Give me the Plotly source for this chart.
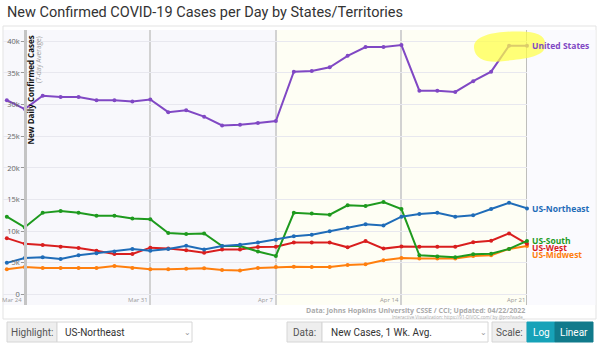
import plotly.graph_objects as go

W, H = 600, 344


def px(x):
    return x / W


def py(y):
    return 1 - y / H


dates = ["2022-03-23", "2022-03-24", "2022-03-25", "2022-03-26", "2022-03-27", "2022-03-28",
         "2022-03-29", "2022-03-30", "2022-03-31", "2022-04-01", "2022-04-02", "2022-04-03",
         "2022-04-04", "2022-04-05", "2022-04-06", "2022-04-07", "2022-04-08", "2022-04-09",
         "2022-04-10", "2022-04-11", "2022-04-12", "2022-04-13", "2022-04-14", "2022-04-15",
         "2022-04-16", "2022-04-17", "2022-04-18", "2022-04-19", "2022-04-20", "2022-04-21"]

united_states = [30700, 29300, 31400, 31200, 31200, 30700, 30700, 30500, 30800, 28800,
                 29100, 28100, 26700, 26800, 27100, 27400, 35200, 35300, 35900, 37700,
                 39100, 39100, 39400, 32200, 32200, 32000, 33700, 35200, 39300, 39300]
us_northeast = [5000, 5750, 5900, 5600, 6200, 6500, 6800, 7200, 6900, 7200,
                7700, 7100, 7660, 7870, 8200, 8660, 9200, 9450, 10000, 10550,
                11100, 10900, 12300, 12700, 12900, 12300, 12500, 13500, 14500, 13600]
us_south = [12300, 10600, 12900, 13200, 12900, 12450, 12450, 12000, 11900, 9700,
            9550, 9650, 7660, 7660, 6800, 6100, 12900, 12800, 12600, 14100,
            14000, 14600, 13500, 6200, 6000, 5900, 6350, 6450, 7200, 8450]
us_west = [8900, 8000, 7800, 7550, 7350, 6900, 6400, 6400, 7400, 7250,
           7000, 6600, 7100, 7100, 7500, 7550, 8200, 8200, 8200, 7450,
           8450, 7250, 7600, 7550, 7550, 7550, 8250, 8500, 9650, 8000]
us_midwest = [3980, 4350, 4200, 4200, 4200, 4200, 4500, 4200, 4000, 4000,
              4050, 4130, 3870, 3800, 4200, 4350, 4400, 4350, 4350, 4660,
              4770, 5400, 5770, 5700, 5700, 5700, 6100, 6200, 7200, 7660]

series_names = ["US-Midwest", "US-West", "US-South", "US-Northeast", "United States"]
series_values = [us_midwest, us_west, us_south, us_northeast, united_states]
series_colors = ["#ff7f0e", "#d91e1e", "#1e9a1e", "#1f6cb8", "#8048c4"]
label_shift = [-8, -3.5, 0.5, 0, 0]

week_ticks = ["2022-03-24", "2022-03-31", "2022-04-07", "2022-04-14", "2022-04-21"]
week_labels = ["Mar 24", "Mar 31", "Apr 7", "Apr 14", "Apr 21"]
y_ticks = [0, 5000, 10000, 15000, 20000, 25000, 30000, 35000, 40000]
y_labels = ["0", "5k", "10k", "15k", "20k", "25k", "30k", "35k", "40k"]

FONT = "Open Sans"

fig = go.Figure()
for name, vals, col in zip(series_names, series_values, series_colors):
    fig.add_trace(go.Scatter(
        x=dates, y=vals, name=name, mode="lines+markers",
        line=dict(color=col, width=2), marker=dict(color=col, size=4),
        cliponaxis=False, showlegend=False))

annotations = []
for name, vals, col, sh in zip(series_names, series_values, series_colors, label_shift):
    annotations.append(dict(x=dates[-1], y=vals[-1], xref="x", yref="y", text="<b>%s</b>" % name,
                            xanchor="left", yanchor="middle", xshift=3, yshift=sh, showarrow=False,
                            font=dict(family=FONT, size=8.5, color=col)))

# x tick labels, right-aligned just left of each week line
for t, lab in zip(week_ticks, week_labels):
    annotations.append(dict(x=t, y=py(299.5), xref="x", yref="paper", text=lab, xanchor="right",
                            yanchor="middle", xshift=-1.5, showarrow=False, borderpad=0,
                            font=dict(family=FONT, size=6, color="#999")))

# title
annotations.append(dict(x=px(5), y=py(13), xref="paper", yref="paper", xanchor="left", yanchor="middle",
                        text="New Confirmed COVID-19 Cases per Day by States/Territories", showarrow=False,
                        font=dict(family="Roboto", size=14.5, color="#333")))
# y axis titles
annotations.append(dict(x=px(30), y=py(34), xref="paper", yref="paper", xanchor="center", yanchor="top",
                        text="<b>New Daily Confirmed Cases</b>", textangle=-90, showarrow=False,
                        font=dict(family=FONT, size=8, color="#111")))
annotations.append(dict(x=px(38.5), y=py(34), xref="paper", yref="paper", xanchor="center", yanchor="top",
                        text="(7-day Average)", textangle=-90, showarrow=False,
                        font=dict(family=FONT, size=6.5, color="#999")))
# source
annotations.append(dict(x=px(527), y=py(310), xref="paper", yref="paper", xanchor="right", yanchor="middle",
                        text="<b>Data: Johns Hopkins University CSSE / CCI; Updated: 04/22/2022</b>",
                        showarrow=False, font=dict(family=FONT, size=7, color="#aaa")))
annotations.append(dict(x=px(527), y=py(316.5), xref="paper", yref="paper", xanchor="right", yanchor="middle",
                        text="Interactive Visualization: https://91-DIVOC.com/ by @profwade_",
                        showarrow=False, font=dict(family=FONT, size=4.5, color="#aaa")))

shapes = []
# outer frame
shapes.append(dict(type="rect", xref="paper", yref="paper", x0=px(3), x1=px(596), y0=py(319), y1=py(26),
                   line=dict(color="#e3e3e3", width=1), fillcolor="rgba(0,0,0,0)", layer="below"))
# right margin background
shapes.append(dict(type="rect", xref="paper", yref="paper", x0=px(527), x1=px(595.5), y0=py(305), y1=py(30),
                   line=dict(width=0), fillcolor="#fafafe", layer="below"))
# yellow weeks background
shapes.append(dict(type="rect", xref="x", yref="paper", x0="2022-04-07", x1="2022-04-21",
                   y0=py(305), y1=py(30), line=dict(width=0), fillcolor="#fefef4", layer="below"))
# Apr 21 line
shapes.append(dict(type="line", xref="x", yref="paper", x0="2022-04-21", x1="2022-04-21",
                   y0=py(305), y1=py(30), line=dict(color="#a8a8a8", width=1.5), layer="below"))
# yellow highlight blob
shapes.append(dict(type="path", xref="paper", yref="paper",
                   path="M %f %f C %f %f %f %f %f %f C %f %f %f %f %f %f C %f %f %f %f %f %f C %f %f %f %f %f %f Z" % (
                       px(474), py(48),
                       px(473), py(34), px(500), py(31), px(520), py(31.5),
                       px(538), py(31.5), px(547), py(36), px(545), py(47),
                       px(543), py(58), px(520), py(59), px(505), py(61),
                       px(488), py(63.5), px(475), py(60), px(474), py(48)),
                   fillcolor="rgba(255,255,70,0.72)", line=dict(width=0), layer="above"))


def box(x0, x1, fill, line="#d6d6d6"):
    shapes.append(dict(type="rect", xref="paper", yref="paper", x0=px(x0), x1=px(x1), y0=py(342), y1=py(322),
                       line=dict(color=line, width=1), fillcolor=fill, layer="below"))


def label(x, text, color, anchor="left", size=10):
    annotations.append(dict(x=px(x), y=py(332), xref="paper", yref="paper", xanchor=anchor, yanchor="middle",
                            text=text, showarrow=False, font=dict(family="Roboto", size=size, color=color)))


box(7, 57, "#eeeeee")
box(57, 192, "#ffffff")
label(32, "Highlight:", "#555", "center")
label(63, "US-Northeast", "#333")
label(187, "⌄", "#999", "center", 8)
box(287, 322, "#eeeeee")
box(322, 488, "#ffffff")
label(304.5, "Data:", "#555", "center")
label(329, "New Cases, 1 Wk. Avg.", "#333")
label(483, "⌄", "#999", "center", 8)
box(492, 527, "#eeeeee")
box(527, 555, "#17a2b8", "#17a2b8")
box(555, 593, "#117a8b", "#117a8b")
label(509.5, "Scale:", "#555", "center")
label(541, "Log", "#ffffff", "center")
label(574, "Linear", "#ffffff", "center")

fig.update_layout(
    width=W, height=H, margin=dict(l=0, r=0, t=0, b=0),
    paper_bgcolor="#ffffff", plot_bgcolor="#f8f8fc",
    font=dict(family=FONT),
    xaxis=dict(domain=[px(3), px(527)], range=["2022-03-22 18:54", "2022-04-21 00:00"],
               tickvals=week_ticks, ticktext=week_labels, ticks="", showticklabels=False,
               showgrid=True, gridcolor="#d2d2d2", gridwidth=1.5, zeroline=False, showline=False,
               fixedrange=True),
    yaxis=dict(domain=[py(305), py(30)], range=[-1659, 41785], anchor="free", position=px(25),
               tickvals=y_ticks, ticktext=y_labels, ticks="outside", ticklen=3, tickcolor="#999",
               tickfont=dict(family=FONT, size=7.5, color="#666"),
               showgrid=True, gridcolor="#e8e8ef", gridwidth=1, zeroline=False,
               showline=True, linecolor="#c4c4c4", linewidth=2.5, fixedrange=True),
    shapes=shapes, annotations=annotations,
)

fig.write_html("out.html")
